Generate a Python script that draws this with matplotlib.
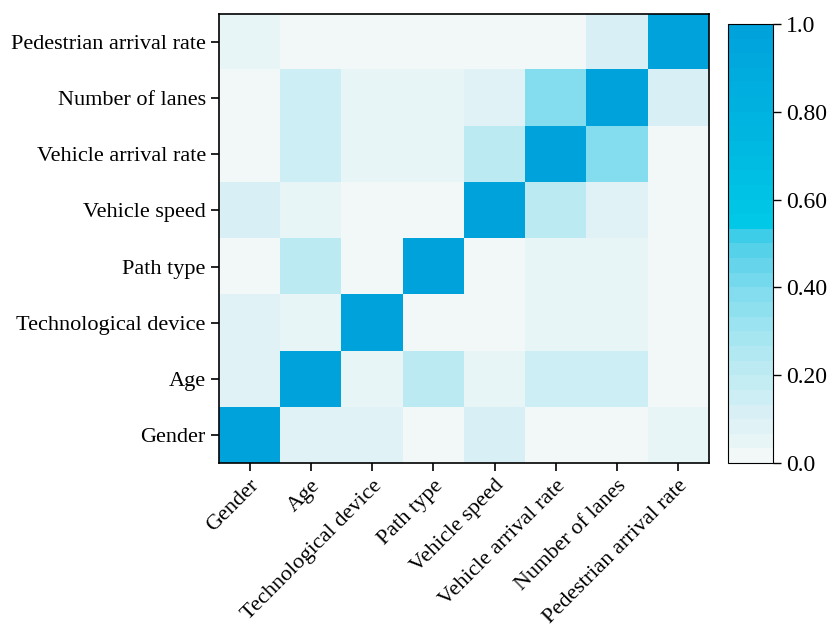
import numpy as np
import matplotlib
matplotlib.use("Agg")
import matplotlib.pyplot as plt
from matplotlib.colors import ListedColormap, to_rgb

plt.rcParams['font.family'] = ['Liberation Serif', 'DejaVu Serif']

# variable names (bottom to top on y, left to right on x)
labels = ["Gender", "Age", "Technological device", "Path type",
          "Vehicle speed", "Vehicle arrival rate", "Number of lanes",
          "Pedestrian arrival rate"]

# correlation values, row i = labels[i]
corr = np.array([
    [1.00, 0.08, 0.08, 0.01, 0.11, 0.01, 0.01, 0.05],
    [0.08, 1.00, 0.05, 0.22, 0.05, 0.15, 0.15, 0.01],
    [0.08, 0.05, 1.00, 0.01, 0.01, 0.05, 0.05, 0.01],
    [0.01, 0.22, 0.01, 1.00, 0.01, 0.05, 0.05, 0.01],
    [0.11, 0.05, 0.01, 0.01, 1.00, 0.22, 0.08, 0.01],
    [0.01, 0.15, 0.05, 0.05, 0.22, 1.00, 0.37, 0.01],
    [0.01, 0.15, 0.05, 0.05, 0.08, 0.37, 1.00, 0.11],
    [0.05, 0.01, 0.01, 0.01, 0.01, 0.01, 0.11, 1.00],
])

cbar_ticks = [0.0, 0.2, 0.4, 0.6, 0.8, 1.0]
cbar_ticklabels = ["0.0", "0.20", "0.40", "0.60", "0.80", "1.0"]

# colormap: 16 light steps then a blue run to the top
light = ["#f2f8f8", "#e8f5f6", "#e0f2f5", "#d8f0f5", "#cdeef4", "#c4ecf3",
         "#bbeaf3", "#b1e8f2", "#a6e6f1", "#9be3f0", "#8fe0ef", "#83ddee",
         "#75d9ed", "#66d5eb", "#55d1ea", "#3ecde8"]
c0 = np.array(to_rgb("#00c8e6"))
c1 = np.array(to_rgb("#00a2dc"))
dark = [tuple(c0 + (c1 - c0) * t) for t in np.linspace(0, 1, 14)]
cmap = ListedColormap([to_rgb(c) for c in light] + dark)

fig = plt.figure(figsize=(8.34, 6.3), dpi=100)
ax = fig.add_axes([0.2626, 0.265, 0.5875, 0.713])
cax = fig.add_axes([0.873, 0.265, 0.054, 0.697])

im = ax.imshow(corr, cmap=cmap, vmin=0, vmax=1, origin="lower",
               aspect="auto", interpolation="nearest")

ax.set_xticks(range(len(labels)))
ax.set_yticks(range(len(labels)))
ax.set_xticklabels(labels, rotation=45, ha="right", rotation_mode="anchor",
                   fontsize=16)
ax.set_yticklabels(labels, fontsize=16)
ax.tick_params(length=6, width=1.2)
for s in ax.spines.values():
    s.set_linewidth(1.2)

cb = fig.colorbar(im, cax=cax)
cb.set_ticks(cbar_ticks)
cb.set_ticklabels(cbar_ticklabels)
cb.ax.tick_params(labelsize=17, length=6, width=1)
cb.outline.set_linewidth(0.8)

fig.savefig("out.png", dpi=100)
